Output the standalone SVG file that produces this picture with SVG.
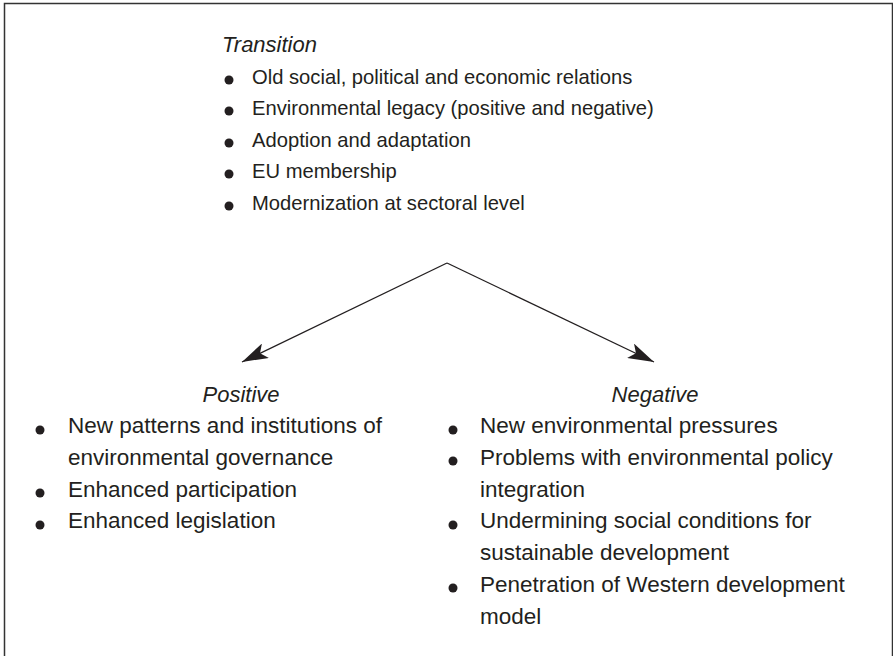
<svg xmlns="http://www.w3.org/2000/svg" width="893" height="656" viewBox="0 0 893 656">
  <defs>
    <marker id="arrow" viewBox="0 0 26 16" refX="26" refY="8" markerWidth="26" markerHeight="16" markerUnits="userSpaceOnUse" orient="auto">
      <path d="M0,0 L26,8 L0,16 L6,8 Z" fill="#231f20"/>
    </marker>
  </defs>
  <style>
    text { font-family: "Liberation Sans", Arial, sans-serif; font-size: 22.5px; fill: #231f20; }
    .head { font-style: italic; font-size: 22px; }
    .top { font-size: 20.2px; }
    .mid { text-anchor: middle; }
    .dot { fill: #231f20; }
    .edge { stroke: #231f20; stroke-width: 1.3; fill: none; }
  </style>
  <rect x="0" y="0" width="893" height="656" fill="#ffffff"/>
  <rect x="4.5" y="3.5" width="888" height="700" fill="none" stroke="#333333" stroke-width="1.5"/>

  <g id="transition">
    <text class="head" x="222" y="52">Transition</text>
    <circle class="dot" cx="229" cy="80" r="4.5"/>
    <text class="top" x="252" y="84">Old social, political and economic relations</text>
    <circle class="dot" cx="229" cy="111" r="4.5"/>
    <text class="top" x="252" y="115">Environmental legacy (positive and negative)</text>
    <circle class="dot" cx="229" cy="143" r="4.5"/>
    <text class="top" x="252" y="147">Adoption and adaptation</text>
    <circle class="dot" cx="229" cy="174" r="4.5"/>
    <text class="top" x="252" y="178">EU membership</text>
    <circle class="dot" cx="229" cy="206" r="4.5"/>
    <text class="top" x="252" y="210">Modernization at sectoral level</text>
  </g>

  <g id="connectors">
    <line class="edge" x1="447" y1="263" x2="242" y2="362" marker-end="url(#arrow)"/>
    <line class="edge" x1="447" y1="263" x2="654" y2="362" marker-end="url(#arrow)"/>
  </g>

  <g id="positive">
    <text class="head mid" x="241" y="402">Positive</text>
    <circle class="dot" cx="40" cy="430" r="4.5"/>
    <text x="68" y="433">New patterns and institutions of</text>
    <text x="68" y="465">environmental governance</text>
    <circle class="dot" cx="40" cy="493" r="4.5"/>
    <text x="68" y="497">Enhanced participation</text>
    <circle class="dot" cx="40" cy="525" r="4.5"/>
    <text x="68" y="528">Enhanced legislation</text>
  </g>

  <g id="negative">
    <text class="head mid" x="655" y="402">Negative</text>
    <circle class="dot" cx="453" cy="430" r="4.5"/>
    <text x="480" y="433">New environmental pressures</text>
    <circle class="dot" cx="453" cy="461" r="4.5"/>
    <text x="480" y="465">Problems with environmental policy</text>
    <text x="480" y="497">integration</text>
    <circle class="dot" cx="453" cy="525" r="4.5"/>
    <text x="480" y="528">Undermining social conditions for</text>
    <text x="480" y="560">sustainable development</text>
    <circle class="dot" cx="453" cy="588" r="4.5"/>
    <text x="480" y="592">Penetration of Western development</text>
    <text x="480" y="624">model</text>
  </g>
</svg>
